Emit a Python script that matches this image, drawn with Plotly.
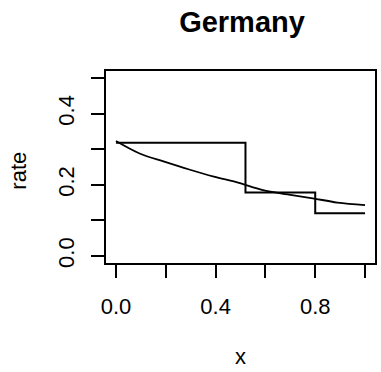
import plotly.graph_objects as go

# Piecewise-constant rate estimate (step breaks and levels)
step_x = [0.0, 0.52, 0.80, 1.00]
step_rate = [0.318, 0.178, 0.120, 0.120]

# Smooth fitted rate curve
curve_x = [0.0, 0.095, 0.194, 0.294, 0.393, 0.49, 0.59, 0.69, 0.79, 0.889, 1.0]
curve_rate = [0.323, 0.288, 0.265, 0.243, 0.223, 0.206, 0.185, 0.173, 0.162, 0.150, 0.143]

x_ticks = [0.0, 0.2, 0.4, 0.6, 0.8, 1.0]
x_tick_text = ["0.0", "", "0.4", "", "0.8", ""]
y_ticks = [0.0, 0.1, 0.2, 0.3, 0.4, 0.5]
y_tick_text = ["0.0", "", "0.2", "", "0.4", ""]

FONT = "Liberation Sans, Arial, sans-serif"
W, H = 381, 372
L, R, T, B = 106, 4, 71, 109
PW, PH = W - L - R, H - T - B

fig = go.Figure()
fig.add_trace(go.Scatter(x=step_x, y=step_rate, mode="lines",
                         line=dict(color="black", width=2, shape="hv"),
                         showlegend=False))
fig.add_trace(go.Scatter(x=curve_x, y=curve_rate, mode="lines",
                         line=dict(color="black", width=1.8, shape="spline"),
                         showlegend=False))

axis_common = dict(showgrid=False, zeroline=False, showline=True, mirror=True,
                   linecolor="black", linewidth=2, ticks="outside",
                   ticklen=13, tickwidth=1.6, tickcolor="black",
                   tickfont=dict(family=FONT, size=22, color="black"))

fig.update_xaxes(range=[-0.04, 1.04], tickvals=x_ticks, ticktext=x_tick_text,
                 ticklabelstandoff=10, **axis_common)
fig.update_yaxes(range=[-0.02, 0.52], tickvals=y_ticks, ticktext=y_tick_text,
                 tickangle=-90, ticklabelstandoff=8, **axis_common)

def px_x(px):
    return (px - L) / PW

def px_y(py):
    return (H - B - py) / PH

fig.add_annotation(text="rate", x=px_x(17), y=px_y(171), xref="paper", yref="paper",
                   xanchor="center", yanchor="middle",
                   showarrow=False, textangle=-90,
                   font=dict(family=FONT, size=22, color="black"))
fig.add_annotation(text="x", x=px_x(242), y=px_y(356), xref="paper", yref="paper",
                   xanchor="center", yanchor="middle",
                   showarrow=False, font=dict(family=FONT, size=22, color="black"))

fig.update_layout(
    width=W, height=H,
    margin=dict(l=L, r=R, t=T, b=B),
    paper_bgcolor="white", plot_bgcolor="white",
    title=dict(text="<b>Germany</b>", x=242 / W, xanchor="center",
               y=1 - 22 / H, yanchor="middle", yref="container", xref="container",
               font=dict(family=FONT, size=29, color="black")),
)

fig.write_html("out.html")
